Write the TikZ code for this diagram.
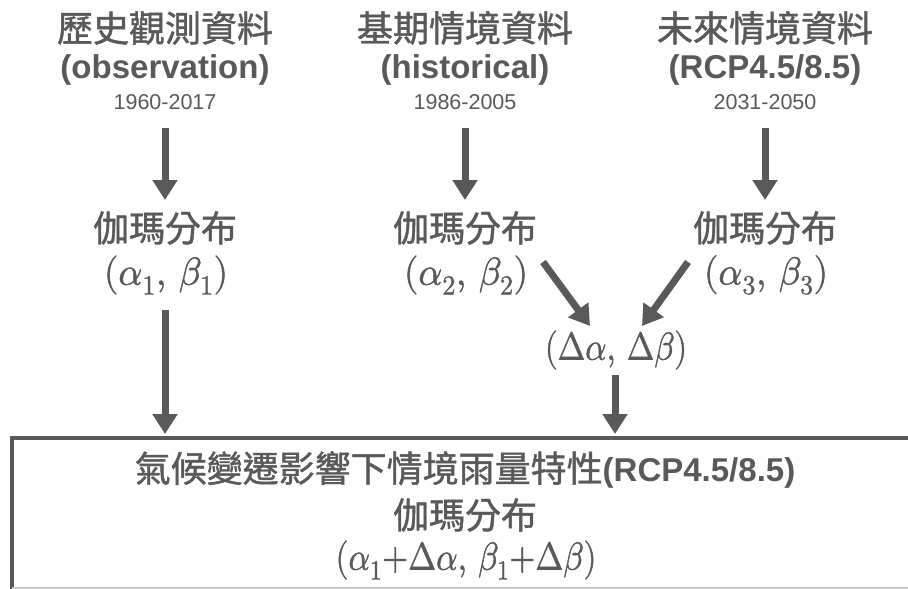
\documentclass[tikz,border=0pt]{standalone}
\usepackage{fontspec}
\usepackage{unicode-math}
\setmathfont{Latin Modern Math}[FakeBold=1.2]
\newfontfamily\cjk{Noto Sans CJK TC}[FakeBold=1.2]
\newfontfamily\arial{Liberation Sans}
\usetikzlibrary{arrows.meta}
\definecolor{tg}{HTML}{595959}
\definecolor{lg}{HTML}{C8C8C8}
\tikzset{
  cn/.style={font=\cjk\fontsize{36}{40}\selectfont, text=tg, inner sep=0pt},
  en/.style={font=\arial\bfseries\fontsize{33}{36}\selectfont, text=tg, inner sep=0pt},
  yr/.style={font=\arial\fontsize{21.5}{24}\selectfont, text=tg, inner sep=0pt},
  mt/.style={font=\fontsize{39}{44}\selectfont, text=tg, inner sep=0pt},
  arr/.style={draw=tg, line width=7pt, -{Triangle[width=24pt,length=20pt]}},
  boxline/.style={draw=tg, line width=4.5pt},
}
\begin{document}
\begin{tikzpicture}[x=1pt, y=-1pt]
\useasboundingbox[fill=white] (0,0) rectangle (908,589);
% column 1
\node[cn] (t1) at (165,28) {歷史觀測資料};
\node[en] (e1) at (165,70) {(observation)};
\node[yr] (y1) at (165,102) {1960-2017};
\node[cn] (g1) at (165,228) {伽瑪分布};
\node[mt] (p1) at (166,275) {\scalebox{0.96}[1]{$(\alpha_1,\,\beta_1)$}};
% column 2
\node[cn] (t2) at (465,28) {基期情境資料};
\node[en] (e2) at (465,70) {(historical)};
\node[yr] (y2) at (465,102) {1986-2005};
\node[cn] (g2) at (465,228) {伽瑪分布};
\node[mt] (p2) at (466,275) {\scalebox{0.96}[1]{$(\alpha_2,\,\beta_2)$}};
% column 3
\node[cn] (t3) at (765,28) {未來情境資料};
\node[en] (e3) at (765,70) {(RCP4.5/8.5)};
\node[yr] (y3) at (765,102) {2031-2050};
\node[cn] (g3) at (765,228) {伽瑪分布};
\node[mt] (p3) at (766,275) {\scalebox{0.96}[1]{$(\alpha_3,\,\beta_3)$}};
% delta
\node[mt] (d) at (616,350) {\scalebox{0.85}[1]{$(\Delta\alpha,\,\Delta\beta)$}};
% box
\draw[boxline] (12,589) -- (12,438) -- (910,438);
\draw[draw=lg, line width=1.5pt] (12,588) -- (908,588);
\node[cn] (b1) at (465,470) {氣候變遷影響下情境雨量特性{\arial\bfseries\fontsize{33}{36}\selectfont (RCP4.5/8.5)}};
\node[cn] (b2) at (465,515) {伽瑪分布};
\node[mt] (b3) at (466,560) {\scalebox{0.86}[1]{$(\alpha_1{+}\Delta\alpha,\,\beta_1{+}\Delta\beta)$}};
% arrows
\draw[arr] ([shift={(0,26)}]y1.center) -- ([shift={(0,-28)}]g1.center);
\draw[arr] ([shift={(0,26)}]y2.center) -- ([shift={(0,-28)}]g2.center);
\draw[arr] ([shift={(0,26)}]y3.center) -- ([shift={(0,-28)}]g3.center);
\draw[arr] ([shift={(-1,35)}]p1.center) -- ([shift={(-300,-36)}]b1.center);
\draw[arr] ([shift={(77,-13)}]p2.center) -- ([shift={(-26,-24)}]d.center);
\draw[arr] ([shift={(-78,-13)}]p3.center) -- ([shift={(26,-24)}]d.center);
\draw[arr] ([shift={(-1,25)}]d.center) -- ([shift={(150,-36)}]b1.center);
\end{tikzpicture}
\end{document}
